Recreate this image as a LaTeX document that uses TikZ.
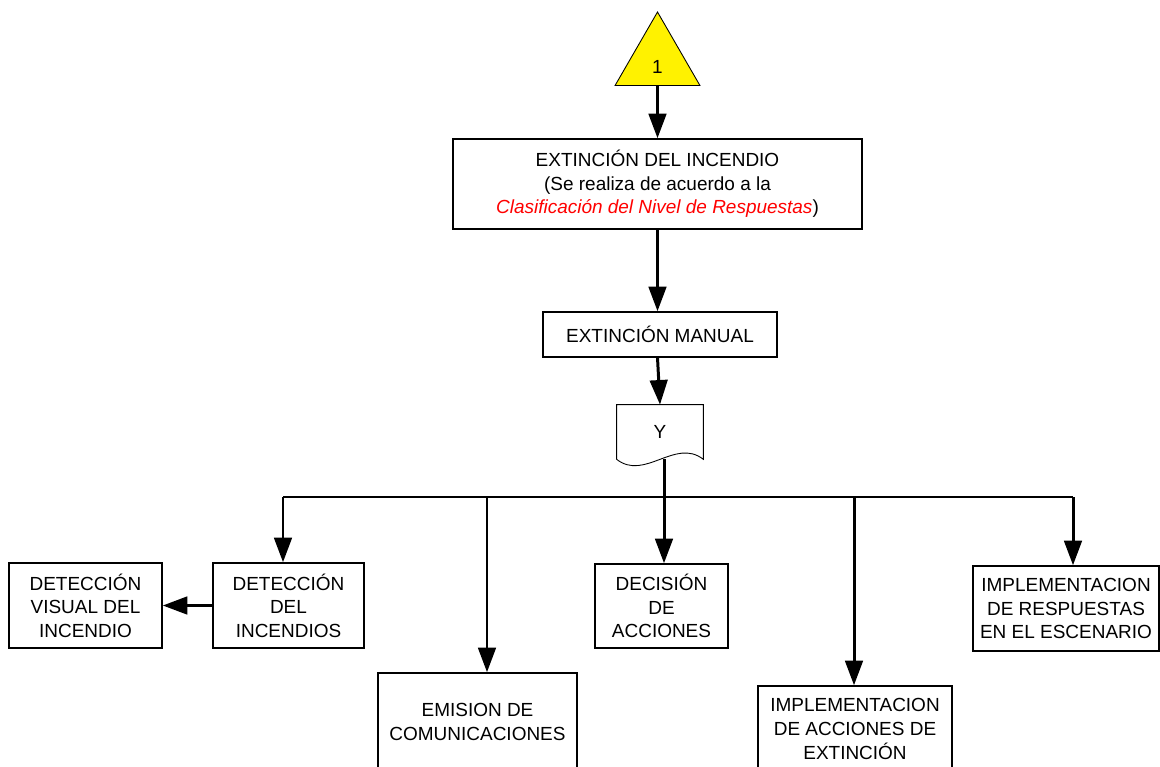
\documentclass[tikz,border=0pt]{standalone}
\usepackage{fontspec}
\setmainfont{Liberation Sans}
\usetikzlibrary{arrows.meta, shapes.geometric}
\begin{document}
\begin{tikzpicture}[x=0.02cm, y=-0.02cm,
		b/.style = {rectangle,	draw=black,	line width=0.85pt,	align=center,	inner sep=1pt,	font=\fontsize{10.8}{13.4}\selectfont},
		tr/.style = {regular polygon, regular polygon sides=3,	draw=black,	fill=yellow,	line width=0.5pt,	minimum size=1.96cm,	inner sep=0pt,	text height=14pt,	text depth=0pt,	font=\fontsize{10.8}{13.4}\selectfont},
		r/.style = {-{Triangle[length=14pt, width=10pt]},	line width=1.7pt},
		l/.style = {line width=1.7pt}
		]
		
		\useasboundingbox (0, 0) rectangle (1160, 767);
		\clip (0, 0) rectangle (1160, 767);
		
		%Nodes
		\node[tr]	(con)	at	(657.5, 61)	{1};
		\node[b, minimum width=8.18cm, minimum height=1.8cm]	(ext)	at	(657.5, 184)	{EXTINCIÓN DEL INCENDIO\\(Se realiza de acuerdo a la\\{\color{red}\itshape Clasificación del Nivel de Respuestas})};
		\node[b, minimum width=4.68cm, minimum height=0.9cm]	(man)	at	(660, 334.5)	{EXTINCIÓN MANUAL};
		\node[minimum width=1.72cm, minimum height=1.08cm, inner sep=0pt, font=\fontsize{10.8}{13.4}\selectfont]	(yn)	at	(660, 432)	{Y};
		
		\node[b, minimum width=3.06cm, minimum height=1.7cm]	(vis)	at	(85.5, 605.5)	{DETECCIÓN\\VISUAL DEL\\INCENDIO};
		\node[b, minimum width=3.02cm, minimum height=1.7cm]	(det)	at	(288.5, 605.5)	{DETECCIÓN\\DEL\\INCENDIOS};
		\node[b, minimum width=2.66cm, minimum height=1.68cm]	(dec)	at	(661.5, 606)	{DECISIÓN\\DE\\ACCIONES};
		\node[b, minimum width=3.72cm, minimum height=1.7cm]	(resp)	at	(1066, 608.5)	{IMPLEMENTACION\\DE RESPUESTAS\\EN EL ESCENARIO};
		\node[b, minimum width=3.98cm, minimum height=1.96cm]	(emi)	at	(477.5, 722)	{EMISION DE\\COMUNICACIONES};
		\node[b, minimum width=3.88cm, minimum height=1.72cm]	(acc)	at	(855, 729)	{IMPLEMENTACION\\DE ACCIONES DE\\EXTINCIÓN};
		
		% document shape
		\draw[line width=0.5pt]	(yn.south west) -- (yn.north west) -- (yn.north east) -- (yn.south east) .. controls +(-28,-22) and +(28,22) .. (yn.south west);
		
		\coordinate	(d1)	at	(283, 497);
		\coordinate	(d2)	at	(487, 497);
		\coordinate	(d3)	at	(664, 497);
		\coordinate	(d4)	at	(854, 497);
		\coordinate	(d5)	at	(1073, 497);
		
		%Lines
		\draw[r]	(con.south)	to	(con.south |- ext.north);
		\draw[r]	(ext.south)	to	(ext.south |- man.north);
		\draw[r]	(man.south -| ext.south)	to	(yn.north);
		\draw[l]	(d3 |- yn.south)	to	(d3);
		\draw[l]	(d1)	to	(d5);
		
		\draw[r]	(d1)	to	(d1 |- det.north);
		\draw[r]	(d2)	to	(d2 |- emi.north);
		\draw[r]	(d3)	to	(d3 |- dec.north);
		\draw[r]	(d4)	to	(d4 |- acc.north);
		\draw[r]	(d5)	to	(d5 |- resp.north);
		
		\draw[r]	(det.west)	to	(vis.east);
	\end{tikzpicture}
\end{document}
